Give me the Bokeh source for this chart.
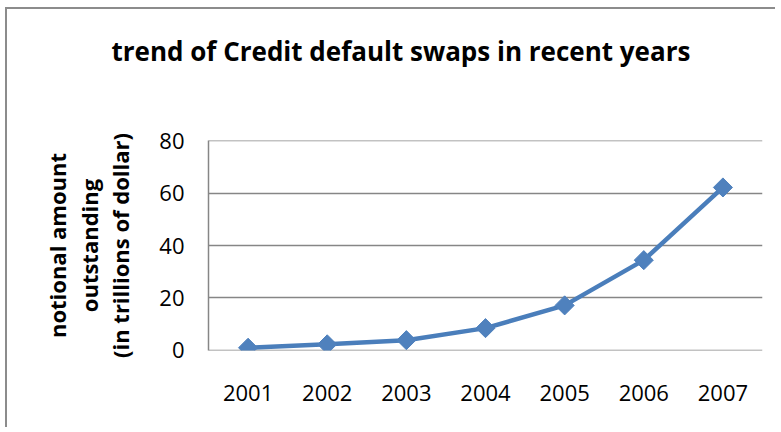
import math
from bokeh.plotting import figure
from bokeh.models import FactorRange, Range1d, ColumnDataSource, Title
from bokeh.embed import file_html
from bokeh.resources import INLINE

years = ["2001", "2002", "2003", "2004", "2005", "2006", "2007"]
amounts = [0.9, 2.2, 3.8, 8.4, 17.1, 34.4, 62.2]
y_ticks = [0, 20, 40, 60, 80]

title_text = "trend of Credit default swaps in recent years"
y_label = "notional amount\noutstanding\n(in trillions of dollar)"

src = ColumnDataSource(dict(year=years, amount=amounts))

FONT = "Open Sans"
GRID = "#868686"

p = figure(
    x_range=FactorRange(*years, range_padding=0),
    y_range=Range1d(-0.15, 80.15),
    width=770, height=420,
    output_backend="svg", toolbar_location=None,
    min_border_left=201, min_border_top=131,
    min_border_right=15, min_border_bottom=79,
)
p.styles = {"border-left": "2px solid #8c8c8c", "border-top": "2px solid #8c8c8c",
            "margin-left": "5px", "margin-top": "7px"}

# spacer between the plot frame and the title
p.add_layout(Title(text=" ", text_font_size="10px", standoff=59), "above")
# chart title
p.add_layout(Title(text=title_text, align="left", offset=-97, standoff=0,
                   text_font=FONT, text_font_style="bold", text_font_size="26px",
                   text_color="#000000"), "above")

p.outline_line_color = None
p.xgrid.grid_line_color = None
p.ygrid.grid_line_color = GRID
p.ygrid.grid_line_width = 1.5
p.ygrid.ticker = y_ticks

p.yaxis.ticker = y_ticks
p.yaxis.major_tick_line_color = None
p.yaxis.minor_tick_line_color = None
p.yaxis.axis_line_color = GRID
p.yaxis.axis_line_width = 1.5
p.yaxis.major_label_text_font = FONT
p.yaxis.major_label_text_font_size = "22px"
p.yaxis.major_label_text_color = "#000000"
p.yaxis.major_label_standoff = 18
p.yaxis.axis_label = y_label
p.yaxis.axis_label_text_font = FONT
p.yaxis.axis_label_text_font_style = "bold"
p.yaxis.axis_label_text_font_size = "22px"
p.yaxis.axis_label_text_color = "#000000"
p.yaxis.axis_label_text_line_height = 1.05
p.yaxis.axis_label_standoff = 21

p.xaxis.axis_line_color = None
p.xaxis.major_tick_line_color = None
p.xaxis.minor_tick_line_color = None
p.xaxis.major_label_text_font = FONT
p.xaxis.major_label_text_font_size = "22px"
p.xaxis.major_label_text_color = "#000000"
p.xaxis.major_label_standoff = 28

p.line("year", "amount", source=src, line_color="#4A7EBB", line_width=4.5)
p.scatter("year", "amount", source=src, marker="square", size=13.5,
          angle=math.pi / 4, fill_color="#4F81BD", line_color="#4F81BD")

open("out.html", "w").write(file_html(p, INLINE))
